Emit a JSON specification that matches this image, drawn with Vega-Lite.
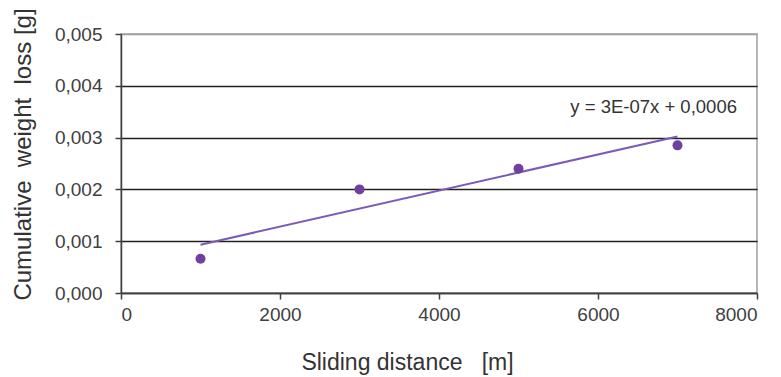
{
  "$schema": "https://vega.github.io/schema/vega-lite/v6.json",
  "autosize": "none",
  "width": 636,
  "height": 259,
  "padding": {"left": 121, "top": 34, "right": 24, "bottom": 84},
  "background": "white",
  "config": {
    "view": {"stroke": "#a0a0a0", "strokeWidth": 1.5},
    "font": "Liberation Sans",
    "axis": {"labelFont": "Liberation Sans", "titleFont": "Liberation Sans", "labelColor": "#404040", "titleColor": "#333333", "titleFontWeight": "normal", "labelFontSize": 19, "titleFontSize": 23, "domainColor": "#404040", "tickColor": "#404040", "domainWidth": 1.5, "tickWidth": 1.5, "tickSize": 6}
  },
  "data": {"values": [
    {"distance": 1000, "loss": 0.00066},
    {"distance": 3000, "loss": 0.0020},
    {"distance": 5000, "loss": 0.0024},
    {"distance": 7000, "loss": 0.00285}
  ]},
  "layer": [
    {
      "mark": {"type": "line", "color": "#7a5cb8", "strokeWidth": 2},
      "transform": [{"regression": "loss", "on": "distance", "extent": [1000, 7000]}],
      "encoding": {
        "x": {"field": "distance", "type": "quantitative"},
        "y": {"field": "loss", "type": "quantitative"}
      }
    },
    {
      "mark": {"type": "circle", "color": "#7040a0", "opacity": 1, "size": 100},
      "encoding": {
        "x": {"field": "distance", "type": "quantitative", "scale": {"domain": [0, 8000], "nice": false},
          "axis": {"title": "Sliding distance \u00a0\u00a0[m]", "values": [0, 2000, 4000, 6000, 8000], "format": "d", "grid": false, "labelPadding": 6, "titleX": 286, "titleY": 69, "titleBaseline": "middle"}},
        "y": {"field": "loss", "type": "quantitative", "scale": {"domain": [0, 0.005], "nice": false},
          "axis": {"title": "Cumulative \u00a0weight \u00a0loss [g]", "titleFontSize": 24, "titleY": 120, "values": [0, 0.001, 0.002, 0.003, 0.004, 0.005], "labelExpr": "replace(format(datum.value, '.3f'), '.', ',')", "grid": true, "gridColor": {"condition": {"test": "datum.value >= 0.005", "value": "#a0a0a0"}, "value": "#222222"}, "gridWidth": 1.5, "labelPadding": 13, "titlePadding": 19}}
      }
    },
    {
      "data": {"values": [{"distance": 6700, "loss": 0.00359, "label": "y = 3E-07x + 0,0006"}]},
      "mark": {"type": "text", "font": "Liberation Sans", "fontSize": 18.5, "color": "#333333", "align": "center", "baseline": "middle"},
      "encoding": {
        "x": {"field": "distance", "type": "quantitative"},
        "y": {"field": "loss", "type": "quantitative"},
        "text": {"field": "label"}
      }
    }
  ]
}
